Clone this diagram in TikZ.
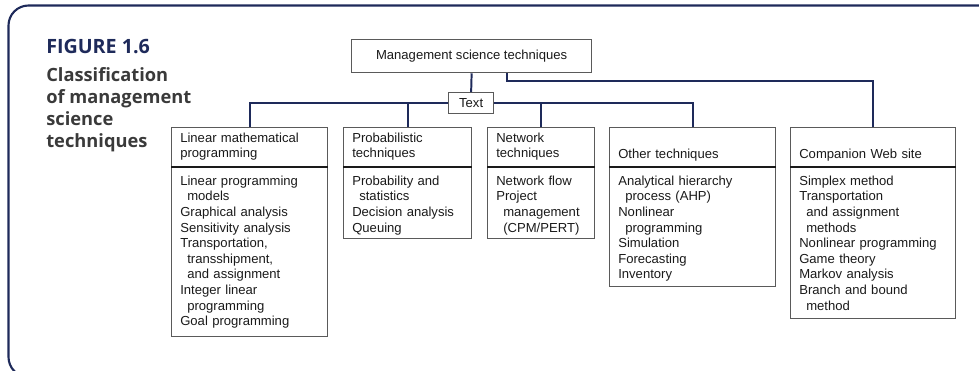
\documentclass[tikz,border=0pt]{standalone}
\usepackage{fontspec}
\usepackage{tikz}
\setmainfont{Liberation Sans}
\newfontfamily\capfont{Open Sans}

\definecolor{navy}{HTML}{1E2A5A}
\definecolor{capgray}{HTML}{3A3A3A}
\definecolor{boxgray}{HTML}{5A5A5A}
\definecolor{ink}{HTML}{1A1A1A}

\newdimen\upx \upx=0.025cm
\newcommand{\indt}{\hspace*{5pt}}

\begin{document}
\begin{tikzpicture}[x=1\upx, y=-1\upx,
			every node/.style={text=ink, font=\fontsize{9.3}{11.1}\selectfont},
			frame/.style={draw=navy, line width=1.5pt, rounded corners=20\upx},
			conn/.style={draw=navy, line width=1.4pt},
			colbox/.style={draw=boxgray, line width=0.9pt, anchor=north west, inner sep=0pt},
			sep/.style={draw=ink, line width=1.4pt},
			head/.style={anchor=north west, text width=#1, inner xsep=9\upx, inner ysep=0pt, minimum height=39\upx, align=left},
			body/.style={anchor=north west, text width=#1, inner xsep=9\upx, inner ysep=9\upx, align=left}]
			\useasboundingbox (0,0) rectangle (979,370);
			\draw[frame] (1000,5.5) -- (8.5,5.5) -- (8.5,377) -- (1000,377);
			\node[anchor=base west, inner sep=0pt, text=navy, font=\capfont\bfseries\fontsize{14}{16}\selectfont] (fig) at (46,53) {FIGURE 1.6};
			\node[anchor=north west, inner sep=0pt, text=capgray, align=left, font=\capfont\bfseries\fontsize{13}{15.8}\selectfont] (cap) at (46,67) {Classification\\of management\\science\\techniques};
			\node[colbox, minimum width=240\upx, minimum height=33\upx] (mst) at (351,39) {Management science techniques};
			\node[colbox, minimum width=45\upx, minimum height=21\upx] (txt) at (448,92) {Text};
			\node[colbox, minimum width=156\upx, minimum height=209\upx] (lmp) at (171,127) {};
			\node[head=138\upx] (lmph) at (lmp.north west) {Linear mathematical\\programming};
			\draw[sep] (lmph.south west) -- (lmph.south east);
			\node[body=138\upx] (lmpb) at (lmph.south west) {Linear programming\\\indt models\\Graphical analysis\\Sensitivity analysis\\Transportation,\\\indt transshipment,\\\indt and assignment\\Integer linear\\\indt programming\\Goal programming};
			\node[colbox, minimum width=128\upx, minimum height=111\upx] (prob) at (343,127) {};
			\node[head=110\upx] (probh) at (prob.north west) {Probabilistic\\techniques};
			\draw[sep] (probh.south west) -- (probh.south east);
			\node[body=110\upx] (probb) at (probh.south west) {Probability and\\\indt statistics\\Decision analysis\\Queuing};
			\node[colbox, minimum width=107\upx, minimum height=111\upx] (net) at (487,127) {};
			\node[head=89\upx] (neth) at (net.north west) {Network\\techniques};
			\draw[sep] (neth.south west) -- (neth.south east);
			\node[body=89\upx] (netb) at (neth.south west) {Network flow\\Project\\\indt management\\\indt (CPM/PERT)};
			\node[colbox, minimum width=166\upx, minimum height=159\upx] (oth) at (609,127) {};
			\node[head=148\upx] (othh) at (oth.north west) {\strut\\Other techniques};
			\draw[sep] (othh.south west) -- (othh.south east);
			\node[body=148\upx] (othb) at (othh.south west) {Analytical hierarchy\\\indt process (AHP)\\Nonlinear\\\indt programming\\Simulation\\Forecasting\\Inventory};
			\node[colbox, minimum width=165\upx, minimum height=191\upx] (web) at (790,127) {};
			\node[head=147\upx] (webh) at (web.north west) {\strut\\Companion Web site};
			\draw[sep] (webh.south west) -- (webh.south east);
			\node[body=147\upx] (webb) at (webh.south west) {Simplex method\\Transportation\\\indt and assignment\\\indt methods\\Nonlinear programming\\Game theory\\Markov analysis\\Branch and bound\\\indt method};
			\draw[conn] (mst.south) -- (txt.north);
			\draw[conn] (txt.west) -| (lmp.north);
			\draw[conn] (txt.east) -| (oth.north);
			\draw[conn] (prob.north) -- (prob.north |- txt.west);
			\draw[conn] (net.north) -- (net.north |- txt.east);
			\draw[conn] ([xshift=35\upx]mst.south) -- ++(0,8) -| (web.north);
			\end{tikzpicture}
\end{document}
